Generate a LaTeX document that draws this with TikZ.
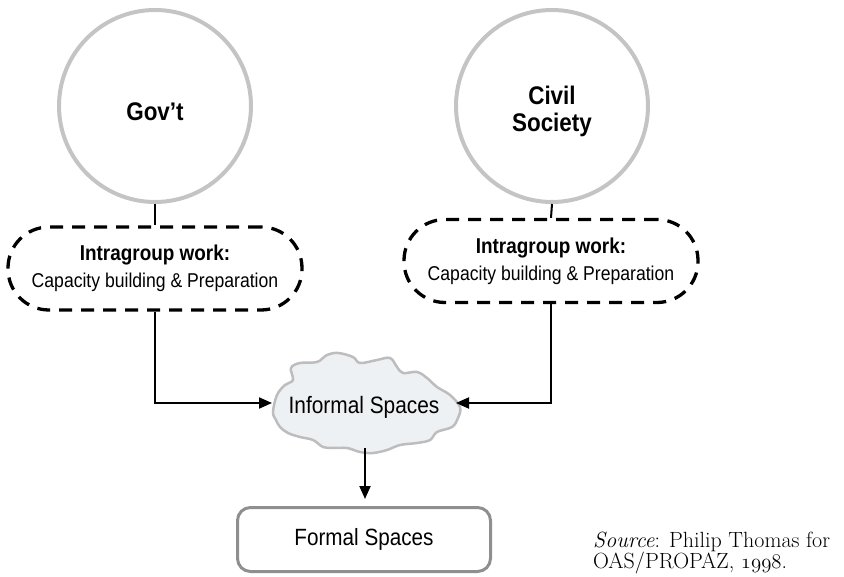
\documentclass[tikz,border=0pt]{standalone}
\usepackage{fontspec}
\newfontfamily\cond[FakeStretch=0.88]{Liberation Sans}
\usetikzlibrary{arrows.meta}
\definecolor{circgray}{HTML}{C4C4C4}
\definecolor{boxgray}{HTML}{8F8F8F}
\definecolor{cloudfill}{HTML}{EEF1F4}
\definecolor{cloudline}{HTML}{BDBDBD}
\newcommand{\osnum}[1]{{\usefont{OML}{cmm}{m}{it}#1}}
\tikzset{
  circ/.style={circle, draw=circgray, line width=4pt, minimum size=192pt, inner sep=0pt},
  biglbl/.style={font=\fontsize{25.5}{27}\selectfont\cond\bfseries, align=center, inner sep=0pt},
  dashbox/.style={draw=black, line width=3.3pt, dash pattern=on 13pt off 9pt, rounded corners=41pt,
    minimum width=294pt, minimum height=83pt, inner sep=0pt, align=center,
    font=\fontsize{20}{27}\selectfont\cond},
  conn/.style={line width=2pt, draw=black},
  arr/.style={conn, -{Triangle[length=13pt,width=11pt]}},
  formalbox/.style={draw=boxgray, line width=3pt, rounded corners=13pt, minimum width=253pt,
    minimum height=64pt, inner sep=0pt, font=\fontsize{23.5}{27}\selectfont\cond},
  cloudtxt/.style={inner sep=0pt, font=\fontsize{23.7}{27}\selectfont\cond},
  srctxt/.style={anchor=base west, inner sep=0pt, font=\fontsize{22}{21}\selectfont}
}
\begin{document}
\begin{tikzpicture}[x=1pt,y=-1pt]
\useasboundingbox (0,0) rectangle (844,577);
% circles
\node[circ] (gov) at (155,106) {};
\node[biglbl] (govlbl) at (155,112) {Gov’t};
\node[circ] (civ) at (552,106) {};
\node[biglbl] (civlbl) at (552,111) {Civil\\Society};
% dashed boxes
\node[dashbox] (ellL) at (155,268.5) {{\bfseries\fontsize{21.5}{27}\selectfont Intragroup work:}\\Capacity building \& Preparation};
\node[dashbox] (ellR) at (551,261) {{\bfseries\fontsize{21.5}{27}\selectfont Intragroup work:}\\Capacity building \& Preparation};
% cloud
\draw[draw=cloudline, fill=cloudfill, line width=2.5pt]
  plot[smooth cycle, tension=0.6] coordinates {
  (273,412) (277,395) (285,385) (293,380) (291,368) (300,363) (317,362)
  (327,355) (338,353) (353,357) (360,363) (377,360) (390,358) (397,367)
  (403,373) (417,372) (427,378) (437,387) (450,395) (460,407) (458,418)
  (452,427) (437,432) (430,440) (417,443) (400,445) (387,450) (373,453)
  (360,452) (347,448) (333,448) (323,447) (313,440) (300,437) (288,433)
  (280,427) (276,420)};
\node[cloudtxt] (informal) at (364,407) {Informal Spaces};
\coordinate (cloudW) at (272,403);
\coordinate (cloudE) at (456,403);
\coordinate (cloudS) at (365,448);
% formal
\node[formalbox] (formal) at (364,539.5) {Formal Spaces};
% connectors
\draw[conn] (gov.south) -- (ellL.north);
\draw[conn] (civ.south) -- (ellR.north);
\draw[arr] (ellL.south) |- (cloudW);
\draw[arr] (ellR.south) |- (cloudE);
\draw[arr, shorten >=7pt] (cloudS) -- (cloudS |- formal.north);
% source
\node[srctxt] (src1) at (593,547) {\textit{Source}: Philip Thomas for};
\node[srctxt] (src2) at (593,568) {OAS/PROPAZ, \osnum{1998}.};
\end{tikzpicture}
\end{document}
